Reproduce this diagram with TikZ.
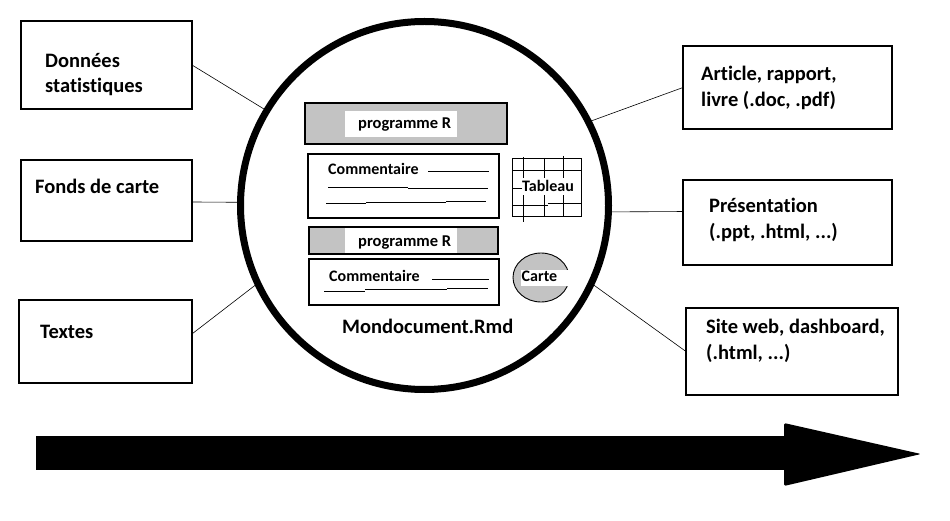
\documentclass[tikz,border=0pt]{standalone}
\usepackage{fontspec}
\setmainfont{Carlito}[Ligatures={NoCommon}]
\definecolor{boxgray}{HTML}{C3C3C3}
\begin{document}
\begin{tikzpicture}[x=1pt,y=-1pt,
  outbox/.style={draw, line width=1.2pt, inner sep=0, outer sep=0, anchor=north west},
  inbox/.style={draw, line width=1.1pt, inner sep=0, outer sep=0, anchor=north west},
  graybox/.style={inbox, fill=boxgray},
  whitebox/.style={fill=white, inner sep=0, outer sep=0, anchor=north west},
  biglab/.style={font=\bfseries\fontsize{20.5}{25}\selectfont, anchor=base west, inner sep=0},
  smalllab/.style={font=\bfseries\fontsize{16}{19}\selectfont, anchor=base west, inner sep=0},
  proglab/.style={font=\bfseries\fontsize{16.5}{20}\selectfont, anchor=base west, inner sep=0},
  conn/.style={line width=0.6pt},
  dec/.style={line width=0.9pt}]
\useasboundingbox (0,0) rectangle (950,521);

% left boxes
\node[outbox, minimum width=171pt, minimum height=88pt] (l1) at (21,21) {};
\node[outbox, minimum width=171pt, minimum height=81pt] (l2) at (21,160) {};
\node[outbox, minimum width=173pt, minimum height=83pt] (l3) at (19,300) {};
\node[biglab] (t1a) at (45,68) {Données};
\node[biglab] (t1b) at (45,93) {statistiques};
\node[biglab] (t2) at (35,194) {Fonds de carte};
\node[biglab] (t3) at (40,338) {Textes};

% right boxes
\node[outbox, minimum width=209pt, minimum height=83pt] (r1) at (683,46) {};
\node[outbox, minimum width=209pt, minimum height=85pt] (r2) at (683,180) {};
\node[outbox, minimum width=212pt, minimum height=87pt] (r3) at (686,308) {};
\node[biglab] (s1a) at (701,81) {Article, rapport,};
\node[biglab] (s1b) at (701,107) {livre (.doc, .pdf)};
\node[biglab] (s2a) at (709,213) {Présentation};
\node[biglab] (s2b) at (709,239) {(.ppt, .html, ...)};
\node[biglab] (s3a) at (706,333) {Site web, dashboard,};
\node[biglab] (s3b) at (706,359) {(.html, ...)};

% main circle
\node[circle, draw, line width=7pt, minimum size=368pt, inner sep=0, outer sep=0] (doc) at (424.5,205.5) {};

% connectors
\draw[conn] (l1.east) -- (doc.149);
\draw[conn] (l2.-1) -- (doc.179);
\draw[conn] (l3.5) -- (doc.205);
\draw[conn] (doc.27) -- (r1.west);
\draw[conn] (doc.-2) -- (r2.174);
\draw[conn] (doc.-25.5) -- (r3.west);

% programme R 1
\node[graybox, minimum width=202pt, minimum height=41pt] (p1) at (305,103) {};
\node[whitebox, minimum width=112pt, minimum height=26pt] (p1w) at (345,111) {};
\node[proglab] (p1t) at (358,129) {programme R};

% commentaire 1
\node[inbox, minimum width=191pt, minimum height=64pt] (c1) at (308,154) {};
\node[smalllab] (c1t) at (328,175) {Commentaire};
\draw[dec] (428,171) -- (489,171);
\draw[dec] (328,187) -- (408,187) (408,188) -- (488,188);
\draw[dec] (326,203) -- (366,203) (366,202) -- (446,202) (446,201) -- (486,201);

% tableau
\draw[dec] (512,158) rectangle (581,216);
\draw[dec] (523,157) -- (523,222);
\draw[dec] (544,158) -- (544,216);
\draw[dec] (563,156) -- (563,216);
\draw[dec] (512,170) -- (581,170);
\draw[dec] (512,205) -- (548,205) (548,203) -- (581,203);
\node[whitebox, minimum width=55pt, minimum height=17pt] (tabw) at (521,178) {};
\draw[dec] (512,188) -- (522,188);
\node[smalllab] (tabt) at (522,192) {Tableau};

% programme R 2
\node[graybox, minimum width=189pt, minimum height=27pt] (p2) at (309,227) {};
\node[whitebox, minimum width=112pt, minimum height=25.6pt] (p2w) at (345,227.7) {};
\node[proglab] (p2t) at (358,247) {programme R};

% commentaire 2
\node[inbox, minimum width=190pt, minimum height=46pt] (c2) at (309,259) {};
\node[smalllab] (c2t) at (329,281) {Commentaire};
\draw[dec] (432,279) -- (489,279);
\draw[dec] (324,291) -- (365,291) (365,289) -- (447,289) (447,288) -- (488,288);

% carte
\draw[line width=0.9pt, fill=boxgray] (541,277.5) ellipse [x radius=28, y radius=24.5];
\node[whitebox, minimum width=50pt, minimum height=16pt] (cartew) at (521,270) {};
\node[smalllab] (cartet) at (521.5,282) {Carte};

% title
\node[biglab] (title) at (342,333) {Mondocument.Rmd};

% big arrow
\fill (36,436) rectangle (786,470);
\fill[rounded corners=1.5pt] (784,423) -- (921,454) -- (784,486) -- cycle;
\end{tikzpicture}
\end{document}
